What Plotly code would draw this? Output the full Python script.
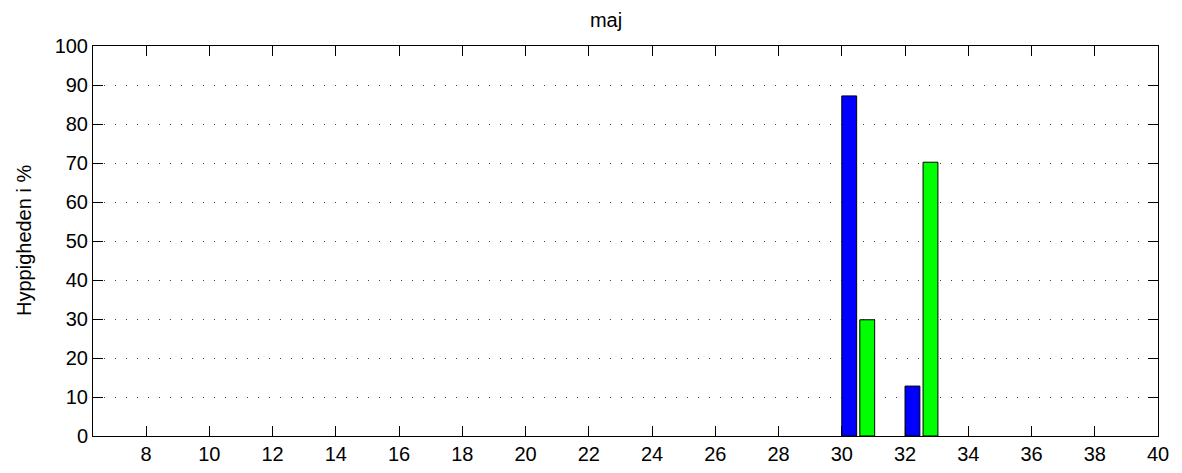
import plotly.graph_objects as go

bins = list(range(7, 40))
blue_vals = [0.0] * len(bins)
green_vals = [0.0] * len(bins)
blue_vals[bins.index(30)] = 87.2
blue_vals[bins.index(32)] = 12.8
green_vals[bins.index(30)] = 29.8
green_vals[bins.index(32)] = 70.2

x_ticks = list(range(8, 41, 2))
y_ticks = list(range(0, 101, 10))

fig = go.Figure()
fig.add_trace(go.Bar(x=bins, y=blue_vals, offset=0.0, width=0.47,
                     marker=dict(color="#0000ff",
                                 line=dict(color="black", width=[1 if v > 0 else 0 for v in blue_vals]))))
fig.add_trace(go.Bar(x=bins, y=green_vals, offset=0.57, width=0.47,
                     marker=dict(color="#00ff00",
                                 line=dict(color="black", width=[1 if v > 0 else 0 for v in green_vals]))))

font = dict(family="Liberation Sans, Arial, sans-serif", size=20, color="black")

W, H = 1174, 465  # page body has an 8px margin
fig.update_layout(
    width=W, height=H,
    margin=dict(l=85, r=24, t=38, b=37),
    paper_bgcolor="white", plot_bgcolor="white",
    showlegend=False, barmode="overlay",
    font=font,
    title=dict(text="maj", x=(606 - 8) / W, xanchor="center", xref="container",
               y=1 - (20 - 8) / H, yanchor="middle", yref="container",
               font=dict(family="Liberation Sans, Arial, sans-serif", size=20, color="black")),
    annotations=[dict(text="Hyppigheden i %", textangle=-90, xref="paper", yref="paper",
                      x=(24 - 93) / 1065, y=0.5, xanchor="center", yanchor="middle",
                      showarrow=False, font=font)],
)
fig.update_xaxes(range=[6.32, 40], tickvals=x_ticks, ticks="inside", ticklen=10,
                 tickcolor="black", showline=True, linecolor="black", linewidth=1,
                 mirror="ticks", showgrid=False, zeroline=False, tickfont=font,
                 automargin=False)
fig.update_yaxes(range=[0, 100], tickvals=y_ticks, ticks="inside", ticklen=10,
                 tickcolor="black", showline=True, linecolor="black", linewidth=1,
                 mirror="ticks", showgrid=True, gridcolor="#444444", griddash="1px,10px",
                 gridwidth=1, zeroline=False, tickfont=font, automargin=False)

fig.write_html("out.html")
